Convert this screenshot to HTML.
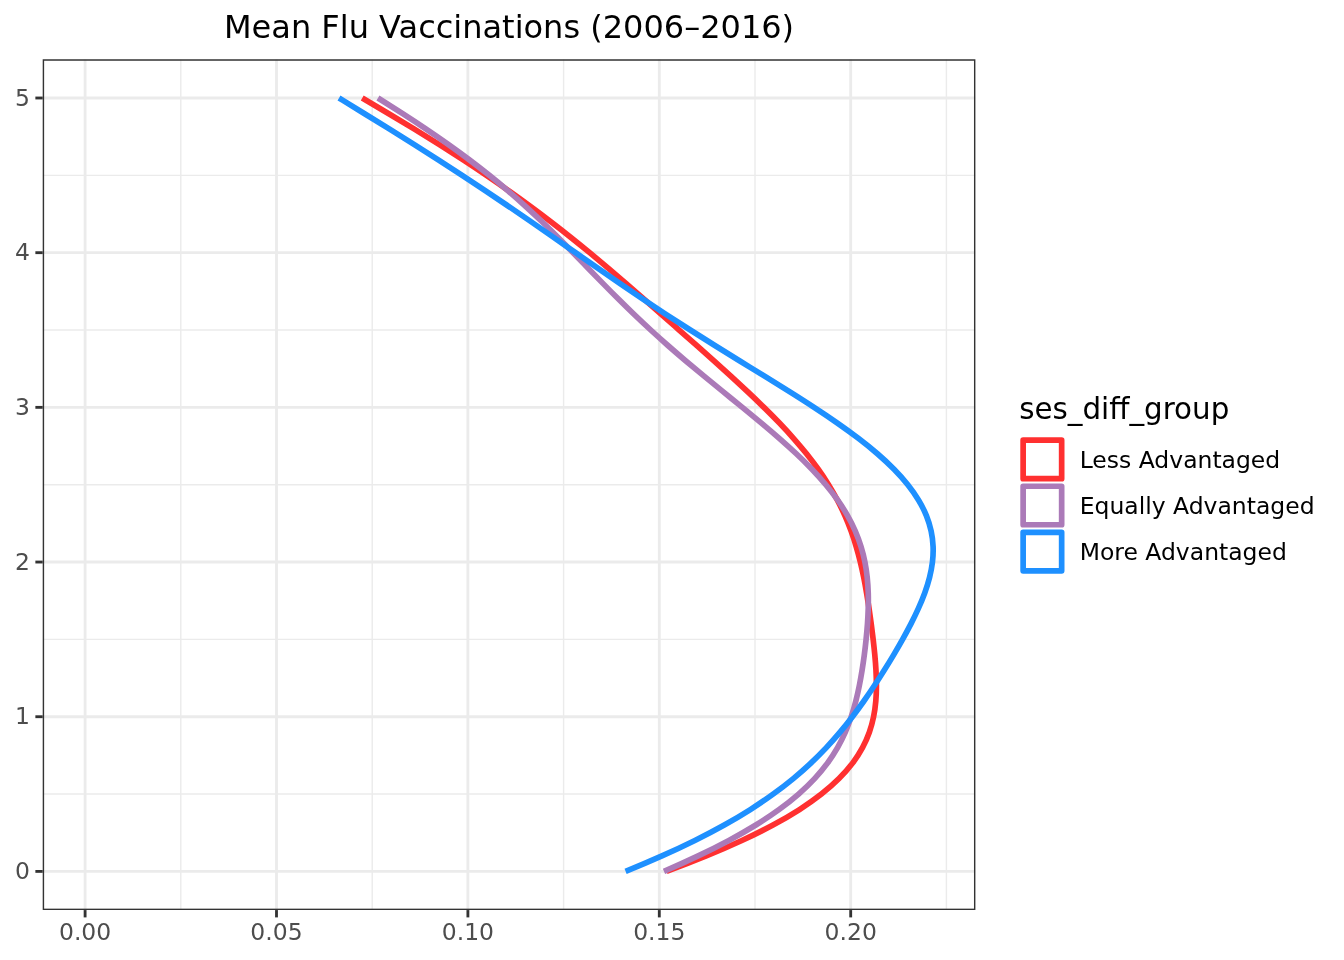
<!DOCTYPE html>
<html lang="en"><head><meta charset="utf-8"><title>Mean Flu Vaccinations (2006–2016)</title>
<style>html,body{margin:0;padding:0;background:#fff}svg{display:block}text{font-family:"DejaVu Sans","Liberation Sans",sans-serif}</style></head><body>
<svg width="1344" height="960" viewBox="0 0 1344 960">
<rect width="1344" height="960" fill="#fff"/>
<defs><clipPath id="pc"><rect x="42.7" y="59.33" width="932.70" height="850.74"/></clipPath></defs>
<g clip-path="url(#pc)">
<g stroke="#EBEBEB" stroke-width="1.42" fill="none">
<line x1="180.80" x2="180.80" y1="59.33" y2="910.07"/>
<line x1="372.20" x2="372.20" y1="59.33" y2="910.07"/>
<line x1="563.60" x2="563.60" y1="59.33" y2="910.07"/>
<line x1="755.00" x2="755.00" y1="59.33" y2="910.07"/>
<line x1="946.40" x2="946.40" y1="59.33" y2="910.07"/>
<line y1="794.06" y2="794.06" x1="42.7" x2="975.4"/>
<line y1="639.38" y2="639.38" x1="42.7" x2="975.4"/>
<line y1="484.70" y2="484.70" x1="42.7" x2="975.4"/>
<line y1="330.02" y2="330.02" x1="42.7" x2="975.4"/>
<line y1="175.34" y2="175.34" x1="42.7" x2="975.4"/>
</g>
<g stroke="#EBEBEB" stroke-width="2.85" fill="none">
<line x1="85.10" x2="85.10" y1="59.33" y2="910.07"/>
<line x1="276.50" x2="276.50" y1="59.33" y2="910.07"/>
<line x1="467.90" x2="467.90" y1="59.33" y2="910.07"/>
<line x1="659.30" x2="659.30" y1="59.33" y2="910.07"/>
<line x1="850.70" x2="850.70" y1="59.33" y2="910.07"/>
<line y1="871.40" y2="871.40" x1="42.7" x2="975.4"/>
<line y1="716.72" y2="716.72" x1="42.7" x2="975.4"/>
<line y1="562.04" y2="562.04" x1="42.7" x2="975.4"/>
<line y1="407.36" y2="407.36" x1="42.7" x2="975.4"/>
<line y1="252.68" y2="252.68" x1="42.7" x2="975.4"/>
<line y1="98.00" y2="98.00" x1="42.7" x2="975.4"/>
</g>
<g fill="none" stroke-width="5.69" stroke-linejoin="round" stroke-linecap="butt">
<path stroke="#FF3030" d="M666.52,871.40 C680.40,866.24 693.68,861.09 706.27,855.93 C718.85,850.78 730.74,845.62 741.87,840.46 C753.01,835.31 763.39,830.15 773.00,825.00 C782.60,819.84 791.44,814.68 799.50,809.53 C807.57,804.37 814.87,799.22 821.44,794.06 C828.02,788.90 833.86,783.75 839.02,778.59 C844.19,773.44 848.68,768.28 852.57,763.12 C856.46,757.97 859.75,752.81 862.52,747.66 C865.28,742.50 867.53,737.34 869.35,732.19 C871.16,727.03 872.55,721.88 873.59,716.72 C874.64,711.56 875.34,706.41 875.79,701.25 C876.23,696.10 876.42,690.94 876.43,685.78 C876.44,680.63 876.26,675.47 875.97,670.32 C875.68,665.16 875.27,660.00 874.79,654.85 C874.31,649.69 873.75,644.54 873.15,639.38 C872.54,634.22 871.90,629.07 871.21,623.91 C870.52,618.76 869.80,613.60 869.04,608.44 C868.27,603.29 867.46,598.13 866.59,592.98 C865.71,587.82 864.77,582.66 863.75,577.51 C862.72,572.35 861.60,567.20 860.35,562.04 C859.11,556.88 857.74,551.73 856.21,546.57 C854.68,541.42 852.99,536.26 851.12,531.10 C849.24,525.95 847.18,520.79 844.90,515.64 C842.62,510.48 840.13,505.32 837.41,500.17 C834.69,495.01 831.73,489.86 828.54,484.70 C825.35,479.54 821.92,474.39 818.25,469.23 C814.58,464.08 810.67,458.92 806.54,453.76 C802.40,448.61 798.05,443.45 793.49,438.30 C788.93,433.14 784.16,427.98 779.23,422.83 C774.29,417.67 769.18,412.52 763.93,407.36 C758.69,402.20 753.30,397.05 747.82,391.89 C742.33,386.74 736.75,381.58 731.10,376.42 C725.45,371.27 719.73,366.11 713.98,360.96 C708.22,355.80 702.43,350.64 696.63,345.49 C690.82,340.33 684.99,335.18 679.16,330.02 C673.32,324.86 667.48,319.71 661.62,314.55 C655.77,309.40 649.90,304.24 644.00,299.08 C638.11,293.93 632.18,288.77 626.22,283.62 C620.25,278.46 614.24,273.30 608.15,268.15 C602.07,262.99 595.92,257.84 589.67,252.68 C583.42,247.52 577.08,242.37 570.62,237.21 C564.16,232.06 557.58,226.90 550.86,221.74 C544.15,216.59 537.30,211.43 530.30,206.28 C523.30,201.12 516.16,195.96 508.86,190.81 C501.55,185.65 494.10,180.50 486.49,175.34 C478.87,170.18 471.11,165.03 463.19,159.87 C455.27,154.72 447.21,149.56 439.01,144.40 C430.81,139.25 422.47,134.09 414.02,128.94 C405.57,123.78 397.01,118.62 388.37,113.47 C379.72,108.31 371.00,103.16 362.23,98.00"/>
<path stroke="#AB7AB8" d="M663.98,871.40 C675.91,866.24 687.32,861.09 698.16,855.93 C708.99,850.78 719.24,845.62 728.87,840.46 C738.50,835.31 747.51,830.15 755.88,825.00 C764.25,819.84 771.99,814.68 779.10,809.53 C786.21,804.37 792.70,799.22 798.61,794.06 C804.51,788.90 809.83,783.75 814.62,778.59 C819.41,773.44 823.67,768.28 827.46,763.12 C831.26,757.97 834.60,752.81 837.55,747.66 C840.50,742.50 843.07,737.34 845.33,732.19 C847.59,727.03 849.55,721.88 851.27,716.72 C852.99,711.56 854.48,706.41 855.80,701.25 C857.12,696.10 858.27,690.94 859.30,685.78 C860.34,680.63 861.25,675.47 862.08,670.32 C862.90,665.16 863.64,660.00 864.31,654.85 C864.99,649.69 865.59,644.54 866.11,639.38 C866.64,634.22 867.09,629.07 867.46,623.91 C867.82,618.76 868.09,613.60 868.23,608.44 C868.37,603.29 868.39,598.13 868.24,592.98 C868.08,587.82 867.76,582.66 867.22,577.51 C866.68,572.35 865.93,567.20 864.91,562.04 C863.89,556.88 862.60,551.73 861.01,546.57 C859.42,541.42 857.52,536.26 855.29,531.10 C853.06,525.95 850.48,520.79 847.56,515.64 C844.64,510.48 841.36,505.32 837.73,500.17 C834.10,495.01 830.13,489.86 825.82,484.70 C821.51,479.54 816.87,474.39 811.94,469.23 C807.00,464.08 801.78,458.92 796.31,453.76 C790.85,448.61 785.14,443.45 779.26,438.30 C773.38,433.14 767.32,427.98 761.14,422.83 C754.97,417.67 748.69,412.52 742.37,407.36 C736.05,402.20 729.68,397.05 723.34,391.89 C716.99,386.74 710.66,381.58 704.40,376.42 C698.14,371.27 691.95,366.11 685.86,360.96 C679.77,355.80 673.79,350.64 667.93,345.49 C662.07,340.33 656.33,335.18 650.72,330.02 C645.11,324.86 639.62,319.71 634.24,314.55 C628.87,309.40 623.61,304.24 618.43,299.08 C613.26,293.93 608.17,288.77 603.13,283.62 C598.08,278.46 593.09,273.30 588.11,268.15 C583.12,262.99 578.14,257.84 573.11,252.68 C568.09,247.52 563.03,242.37 557.87,237.21 C552.72,232.06 547.48,226.90 542.11,221.74 C536.74,216.59 531.24,211.43 525.57,206.28 C519.90,201.12 514.07,195.96 508.04,190.81 C502.01,185.65 495.78,180.50 489.35,175.34 C482.92,170.18 476.28,165.03 469.42,159.87 C462.56,154.72 455.49,149.56 448.22,144.40 C440.94,139.25 433.46,134.09 425.80,128.94 C418.14,123.78 410.30,118.62 402.31,113.47 C394.32,108.31 386.19,103.16 377.96,98.00"/>
<path stroke="#1E90FF" d="M625.59,871.40 C638.26,866.24 650.39,861.09 661.95,855.93 C673.50,850.78 684.48,845.62 694.88,840.46 C705.27,835.31 715.08,830.15 724.31,825.00 C733.55,819.84 742.22,814.68 750.36,809.53 C758.50,804.37 766.11,799.22 773.25,794.06 C780.39,788.90 787.05,783.75 793.30,778.59 C799.54,773.44 805.38,768.28 810.86,763.12 C816.34,757.97 821.48,752.81 826.32,747.66 C831.17,742.50 835.73,737.34 840.06,732.19 C844.39,727.03 848.49,721.88 852.42,716.72 C856.35,711.56 860.11,706.41 863.74,701.25 C867.36,696.10 870.86,690.94 874.27,685.78 C877.67,680.63 880.98,675.47 884.20,670.32 C887.43,665.16 890.58,660.00 893.65,654.85 C896.72,649.69 899.71,644.54 902.59,639.38 C905.48,634.22 908.27,629.07 910.92,623.91 C913.57,618.76 916.08,613.60 918.40,608.44 C920.72,603.29 922.85,598.13 924.73,592.98 C926.61,587.82 928.23,582.66 929.54,577.51 C930.85,572.35 931.84,567.20 932.45,562.04 C933.07,556.88 933.30,551.73 933.10,546.57 C932.90,541.42 932.26,536.26 931.15,531.10 C930.04,525.95 928.46,520.79 926.38,515.64 C924.29,510.48 921.71,505.32 918.61,500.17 C915.52,495.01 911.91,489.86 907.81,484.70 C903.71,479.54 899.10,474.39 894.03,469.23 C888.96,464.08 883.41,458.92 877.44,453.76 C871.47,448.61 865.08,443.45 858.33,438.30 C851.57,433.14 844.46,427.98 837.06,422.83 C829.66,417.67 821.97,412.52 814.08,407.36 C806.20,402.20 798.11,397.05 789.90,391.89 C781.69,386.74 773.37,381.58 765.00,376.42 C756.64,371.27 748.24,366.11 739.86,360.96 C731.49,355.80 723.14,350.64 714.87,345.49 C706.59,340.33 698.39,335.18 690.30,330.02 C682.20,324.86 674.20,319.71 666.31,314.55 C658.42,309.40 650.63,304.24 642.95,299.08 C635.26,293.93 627.66,288.77 620.13,283.62 C612.61,278.46 605.15,273.30 597.73,268.15 C590.32,262.99 582.93,257.84 575.56,252.68 C568.18,247.52 560.81,242.37 553.41,237.21 C546.01,232.06 538.59,226.90 531.12,221.74 C523.64,216.59 516.12,211.43 508.54,206.28 C500.95,201.12 493.30,195.96 485.57,190.81 C477.84,185.65 470.04,180.50 462.16,175.34 C454.27,170.18 446.31,165.03 438.28,159.87 C430.24,154.72 422.13,149.56 413.95,144.40 C405.77,139.25 397.53,134.09 389.23,128.94 C380.93,123.78 372.58,118.62 364.20,113.47 C355.82,108.31 347.41,103.16 339.01,98.00"/>
</g>
<rect x="42.7" y="59.33" width="932.70" height="850.74" fill="none" stroke="#333333" stroke-width="2.85"/>
</g>
<g stroke="#333333" stroke-width="2.85">
<line x1="35.37" x2="42.7" y1="871.40" y2="871.40"/>
<line x1="35.37" x2="42.7" y1="716.72" y2="716.72"/>
<line x1="35.37" x2="42.7" y1="562.04" y2="562.04"/>
<line x1="35.37" x2="42.7" y1="407.36" y2="407.36"/>
<line x1="35.37" x2="42.7" y1="252.68" y2="252.68"/>
<line x1="35.37" x2="42.7" y1="98.00" y2="98.00"/>
<line y1="910.07" y2="917.40" x1="85.10" x2="85.10"/>
<line y1="910.07" y2="917.40" x1="276.50" x2="276.50"/>
<line y1="910.07" y2="917.40" x1="467.90" x2="467.90"/>
<line y1="910.07" y2="917.40" x1="659.30" x2="659.30"/>
<line y1="910.07" y2="917.40" x1="850.70" x2="850.70"/>
</g>
<g fill="#4D4D4D" font-size="23.47">
<text x="30" y="879.00" text-anchor="end">0</text>
<text x="30" y="724.32" text-anchor="end">1</text>
<text x="30" y="569.64" text-anchor="end">2</text>
<text x="30" y="414.96" text-anchor="end">3</text>
<text x="30" y="260.28" text-anchor="end">4</text>
<text x="30" y="105.60" text-anchor="end">5</text>
<text x="85.10" y="940.4" text-anchor="middle">0.00</text>
<text x="276.50" y="940.4" text-anchor="middle">0.05</text>
<text x="467.90" y="940.4" text-anchor="middle">0.10</text>
<text x="659.30" y="940.4" text-anchor="middle">0.15</text>
<text x="850.70" y="940.4" text-anchor="middle">0.20</text>
</g>
<text x="509.05" y="38.25" text-anchor="middle" font-size="32" fill="#000">Mean Flu Vaccinations (2006–2016)</text>
<text x="1019.2" y="418.8" font-size="29.33" fill="#000">ses_diff_group</text>
<rect x="1023.14" y="440.14" width="38.52" height="38.52" fill="#fff" stroke="#FF3030" stroke-width="5.69" stroke-linejoin="round"/>
<text x="1079.7" y="467.95" font-size="23.47" fill="#000">Less Advantaged</text>
<rect x="1023.14" y="486.22" width="38.52" height="38.52" fill="#fff" stroke="#AB7AB8" stroke-width="5.69" stroke-linejoin="round"/>
<text x="1079.7" y="514.03" font-size="23.47" fill="#000">Equally Advantaged</text>
<rect x="1023.14" y="532.30" width="38.52" height="38.52" fill="#fff" stroke="#1E90FF" stroke-width="5.69" stroke-linejoin="round"/>
<text x="1079.7" y="560.11" font-size="23.47" fill="#000">More Advantaged</text>
</svg></body></html>
